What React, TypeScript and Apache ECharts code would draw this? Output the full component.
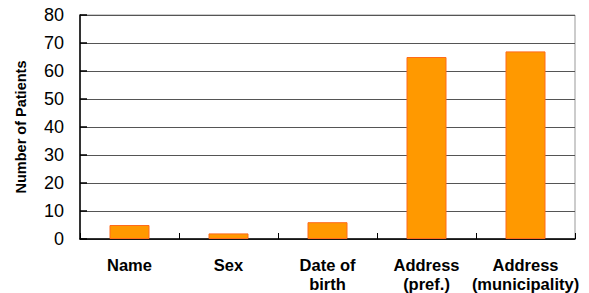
import React, { useEffect, useRef } from "react";
import * as echarts from "echarts";

const categories = ["Name", "Sex", "Date of\nbirth", "Address\n(pref.)", "Address\n(municipality)"];
const patients = [5, 2, 6, 65, 67];
const yTicks = { min: 0, max: 80, interval: 10 };

export default function App() {
  const ref = useRef<HTMLDivElement>(null);
  useEffect(() => {
    const chart = echarts.init(ref.current!, undefined, { renderer: "svg" });
    chart.setOption({
      animation: false,
      backgroundColor: "#fff",
      grid: {
        left: 80,
        right: 14,
        top: 15,
        bottom: 53,
        show: true,
        borderColor: "#999",
        borderWidth: 1,
      },
      xAxis: {
        type: "category",
        data: categories,
        axisLine: { lineStyle: { color: "#000", width: 1.5 } },
        axisTick: { show: true, inside: true, length: 6, lineStyle: { color: "#000" } },
        axisLabel: {
          interval: 0,
          margin: 16,
          verticalAlign: "top",
          fontFamily: "Liberation Sans, Arial, sans-serif",
          fontWeight: "bold",
          fontSize: 16.5,
          lineHeight: 19,
          color: "#000",
        },
      },
      yAxis: {
        type: "value",
        min: yTicks.min,
        max: yTicks.max,
        interval: yTicks.interval,
        name: "Number of Patients",
        nameLocation: "middle",
        nameGap: 52,
        nameTextStyle: {
          fontFamily: "Liberation Sans, Arial, sans-serif",
          fontWeight: "bold",
          fontSize: 14.5,
          color: "#000",
        },
        axisLine: { show: true, lineStyle: { color: "#000", width: 1.5 } },
        axisTick: { show: true, inside: true, length: 7, lineStyle: { color: "#000", width: 1.5 } },
        axisLabel: {
          margin: 16,
          fontFamily: "Liberation Sans, Arial, sans-serif",
          fontSize: 18,
          color: "#000",
        },
        splitLine: { show: true, lineStyle: { color: "#555", width: 1 } },
      },
      series: [
        {
          type: "bar",
          data: patients,
          barWidth: 40,
          itemStyle: { color: "#FF9900", borderColor: "#FF6A1A", borderWidth: 1 },
        },
      ],
    });
    return () => chart.dispose();
  }, []);
  return <div ref={ref} style={{ width: 589, height: 293, position: "absolute", left: 0, top: 0 }} />;
}
